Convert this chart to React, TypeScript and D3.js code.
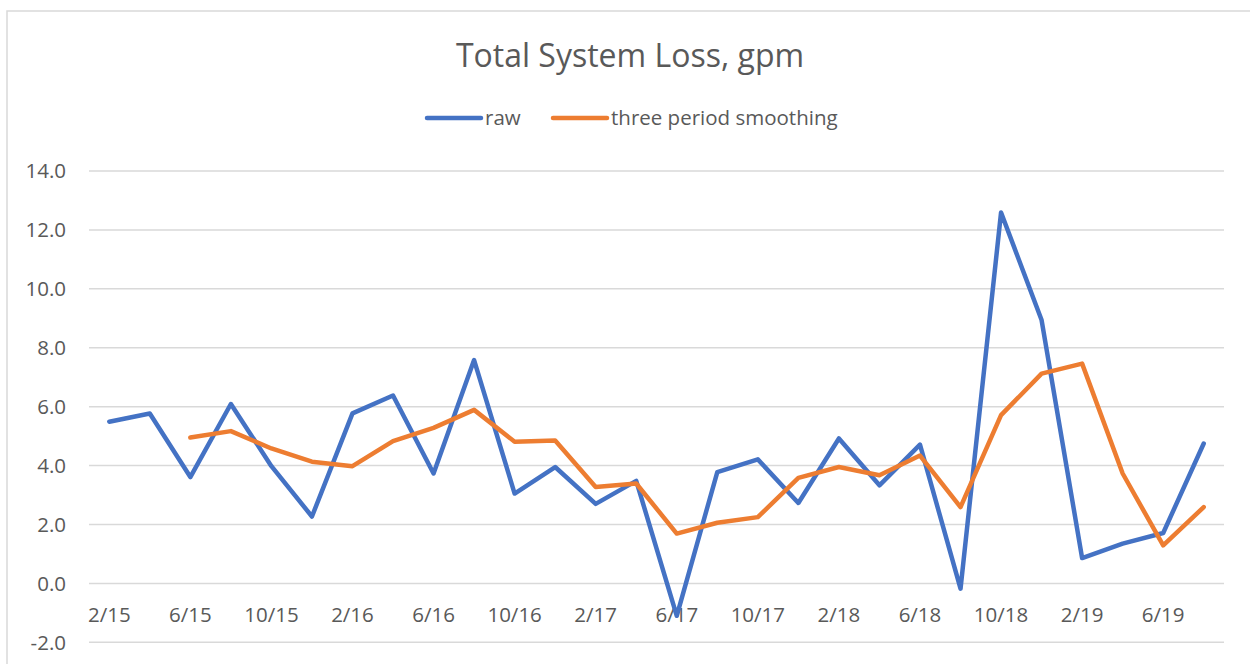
import { useEffect, useRef } from "react";
import * as d3 from "d3";

// period labels, one every two months (label shown on every other point)
const periods = [
  "2/15", "4/15", "6/15", "8/15", "10/15", "12/15",
  "2/16", "4/16", "6/16", "8/16", "10/16", "12/16",
  "2/17", "4/17", "6/17", "8/17", "10/17", "12/17",
  "2/18", "4/18", "6/18", "8/18", "10/18", "12/18",
  "2/19", "4/19", "6/19", "8/19",
];

const raw = [
  5.49, 5.77, 3.61, 6.09, 3.98, 2.27,
  5.77, 6.38, 3.73, 7.58, 3.05, 3.95,
  2.7, 3.48, -1.1, 3.78, 4.21, 2.73,
  4.92, 3.33, 4.71, -0.18, 12.59, 8.94,
  0.86, 1.35, 1.71, 4.75,
];

// three period smoothing, first two periods empty
const smooth: (number | null)[] = [
  null, null, 4.95, 5.17, 4.58, 4.13,
  3.98, 4.83, 5.28, 5.89, 4.81, 4.85,
  3.27, 3.39, 1.69, 2.06, 2.25, 3.58,
  3.95, 3.67, 4.34, 2.59, 5.71, 7.12,
  7.46, 3.73, 1.29, 2.59,
];

const yTicks = [-2, 0, 2, 4, 6, 8, 10, 12, 14];

const series = [
  { name: "raw", values: raw, color: "#4472C4" },
  { name: "three period smoothing", values: smooth, color: "#ED7D31" },
];

const W = 1250;
const H = 664;
const font = "'Open Sans', Lato, sans-serif";
const textColor = "#595959";

export default function App() {
  const ref = useRef<SVGSVGElement>(null);

  useEffect(() => {
    const svg = d3.select(ref.current);
    svg.selectAll("*").remove();

    const left = 89;
    const right = 1224;
    const top = 171;
    const bottom = 642.3;

    // chart area border (right / bottom sides fall outside the picture)
    svg
      .append("rect")
      .attr("x", 7)
      .attr("y", 11)
      .attr("width", W + 20)
      .attr("height", H + 20)
      .attr("fill", "white")
      .attr("stroke", "#d9d9d9")
      .attr("stroke-width", 1.5);

    const x = d3.scaleBand().domain(periods).range([left, right]);
    const y = d3.scaleLinear().domain([-2, 14]).range([bottom, top]);

    // gridlines
    svg
      .append("g")
      .selectAll("line")
      .data(yTicks)
      .join("line")
      .attr("x1", left)
      .attr("x2", right)
      .attr("y1", (d) => y(d))
      .attr("y2", (d) => y(d))
      .attr("stroke", "#d9d9d9")
      .attr("stroke-width", 1.5);

    // y tick labels
    svg
      .append("g")
      .selectAll("text")
      .data(yTicks)
      .join("text")
      .attr("x", 66)
      .attr("y", (d) => y(d))
      .attr("dy", "0.36em")
      .attr("text-anchor", "end")
      .attr("font-family", font)
      .attr("font-size", 20.5)
      .attr("fill", textColor)
      .text((d) => d.toFixed(1));

    // x tick labels, every other period, sitting just under the zero line
    svg
      .append("g")
      .selectAll("text")
      .data(periods.filter((_, i) => i % 2 === 0))
      .join("text")
      .attr("x", (d) => x(d)! + x.bandwidth() / 2)
      .attr("y", 622)
      .attr("text-anchor", "middle")
      .attr("font-family", font)
      .attr("font-size", 20.5)
      .attr("fill", textColor)
      .text((d) => d);

    // lines
    const line = d3
      .line<number | null>()
      .defined((d) => d !== null)
      .x((_, i) => x(periods[i])! + x.bandwidth() / 2)
      .y((d) => y(d as number));

    svg
      .append("g")
      .selectAll("path")
      .data(series)
      .join("path")
      .attr("d", (s) => line(s.values))
      .attr("fill", "none")
      .attr("stroke", (s) => s.color)
      .attr("stroke-width", 4.5)
      .attr("stroke-linejoin", "round")
      .attr("stroke-linecap", "round");

    // title
    svg
      .append("text")
      .attr("x", 630)
      .attr("y", 67)
      .attr("text-anchor", "middle")
      .attr("font-family", font)
      .attr("font-size", 32)
      .attr("fill", textColor)
      .text("Total System Loss, gpm");

    // legend
    const legendX = [427, 553];
    const lg = svg
      .append("g")
      .selectAll("g")
      .data(series)
      .join("g")
      .attr("transform", (_, i) => `translate(${legendX[i]},118)`);
    lg.append("line")
      .attr("x1", 0)
      .attr("x2", 54)
      .attr("stroke", (s) => s.color)
      .attr("stroke-width", 4.5)
      .attr("stroke-linecap", "round");
    lg.append("text")
      .attr("x", 58)
      .attr("dy", "0.36em")
      .attr("font-family", font)
      .attr("font-size", 20.5)
      .attr("fill", textColor)
      .text((s) => s.name);
  }, []);

  return (
    <svg
      ref={ref}
      width={W}
      height={H}
      style={{ position: "absolute", left: 0, top: 0, background: "white" }}
    />
  );
}
